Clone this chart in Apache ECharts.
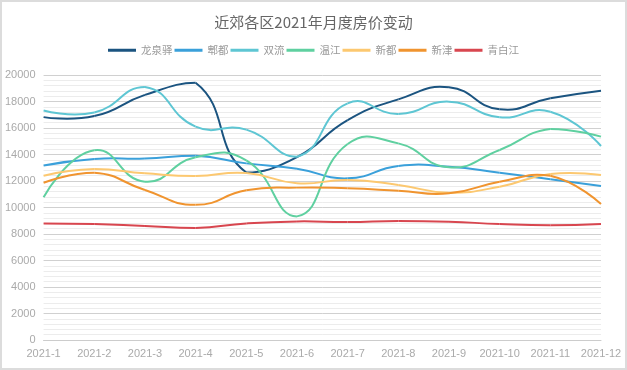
<!DOCTYPE html>
<html><head><meta charset="utf-8">
<script src="https://cdn.jsdelivr.net/npm/echarts@6/dist/echarts.min.js"></script>
<style>
html,body{margin:0;padding:0;background:#fff;}
#c{width:627px;height:370px;box-sizing:border-box;border:2px solid #dcdcdc;}
</style></head>
<body><div id="c"></div>
<script>
const categories = ['2021-1','2021-2','2021-3','2021-4','2021-5','2021-6','2021-7','2021-8','2021-9','2021-10','2021-11','2021-12'];
const seriesNames = ['龙泉驿','郫都','双流','温江','新都','新津','青白江'];
const longquanyi = [16820, 16900, 18500, 19420, 12640, 13800, 16600, 18160, 19070, 17410, 18240, 18820];
const pidu       = [13170, 13660, 13700, 13900, 13330, 12930, 12200, 13130, 13080, 12630, 12130, 11620];
const shuangliu  = [17320, 17170, 19100, 16100, 15880, 13830, 17860, 17060, 17990, 16810, 17230, 14640];
const wenjiang   = [10770, 14320, 11950, 13790, 13550, 9330, 14790, 14840, 13030, 14340, 15930, 15350];
const xindu      = [12400, 12900, 12580, 12380, 12600, 11830, 12080, 11700, 11120, 11570, 12530, 12450];
const xinjin     = [11870, 12620, 11320, 10200, 11300, 11500, 11450, 11270, 11070, 11950, 12400, 10260];
const qingbaijiang = [8800, 8750, 8600, 8460, 8800, 8950, 8900, 8990, 8930, 8750, 8660, 8750];
const colors = ['#1b5480', '#3aa0da', '#5ec6d3', '#5fd0a0', '#fcc870', '#f0942f', '#d8464f'];
const allData = [longquanyi, pidu, shuangliu, wenjiang, xindu, xinjin, qingbaijiang];

const SMOOTH = 0.5;
function makeRender(color) {
  return function (params, api) {
    const n = params.dataInsideLength;
    const i = params.dataIndexInside;
    if (i >= n - 1) return null;
    const pts = [];
    for (let j = 0; j < n; j++) pts.push(api.coord([api.value(0, j), api.value(1, j)]));
    let minX = Infinity, minY = Infinity, maxX = -Infinity, maxY = -Infinity;
    pts.forEach(q => { minX = Math.min(minX, q[0]); maxX = Math.max(maxX, q[0]); minY = Math.min(minY, q[1]); maxY = Math.max(maxY, q[1]); });
    const clamp = c => [Math.min(Math.max(c[0], minX), maxX), Math.min(Math.max(c[1], minY), maxY)];
    function cp(k, dir) {
      const cur = pts[k], prev = pts[k - 1], next = pts[k + 1];
      if (!prev || !next) return cur.slice();
      const vx = (next[0] - prev[0]) * SMOOTH, vy = (next[1] - prev[1]) * SMOOTH;
      let d0 = Math.hypot(cur[0] - prev[0], cur[1] - prev[1]);
      let d1 = Math.hypot(cur[0] - next[0], cur[1] - next[1]);
      const s = d0 + d1;
      if (s) { d0 /= s; d1 /= s; }
      return clamp(dir > 0 ? [cur[0] + vx * d1, cur[1] + vy * d1] : [cur[0] - vx * d0, cur[1] - vy * d0]);
    }
    const a = pts[i], b = pts[i + 1];
    const c1 = cp(i, 1), c2 = cp(i + 1, -1);
    return {
      type: 'bezierCurve',
      shape: {x1: a[0], y1: a[1], x2: b[0], y2: b[1], cpx1: c1[0], cpy1: c1[1], cpx2: c2[0], cpy2: c2[1]},
      style: {stroke: color, lineWidth: 2, fill: null}
    };
  };
}

const chart = echarts.init(document.getElementById('c'));
chart.setOption({
  animation: false,
  color: colors,
  title: {
    text: '近郊各区2021年月度房价变动',
    left: 'center', top: 8,
    textStyle: {color: '#666', fontSize: 15, fontWeight: 'normal', fontFamily: 'Noto Sans CJK SC'}
  },
  legend: {
    top: 38, left: 'center',
    itemWidth: 28, itemHeight: 3, itemGap: 2,
    icon: 'rect',
    textStyle: {color: '#999', fontSize: 10.5, fontFamily: 'Noto Sans CJK SC'},
    data: seriesNames
  },
  grid: {left: 41, right: 24, top: 73, bottom: 28, containLabel: false},
  xAxis: {
    type: 'category', boundaryGap: false, data: categories,
    axisLine: {lineStyle: {color: '#ccc'}},
    axisTick: {show: false},
    axisLabel: {color: '#aaa', fontSize: 11, margin: 8, interval: 0}
  },
  yAxis: {
    type: 'value', min: 0, max: 20000, interval: 2000,
    axisLine: {show: false}, axisTick: {show: false},
    axisLabel: {color: '#aaa', fontSize: 11, margin: 8, formatter: v => String(v)},
    splitLine: {lineStyle: {color: '#d0d0d0'}},
    minorTick: {show: false, splitNumber: 5},
    minorSplitLine: {show: true, lineStyle: {color: '#ececec'}}
  },
  series: seriesNames.map((n, i) => ({
    name: n, type: 'custom',
    itemStyle: {color: colors[i]},
    encode: {x: 0, y: 1},
    renderItem: makeRender(colors[i]),
    data: allData[i].map((v, k) => [categories[k], v])
  }))
});
</script></body></html>
